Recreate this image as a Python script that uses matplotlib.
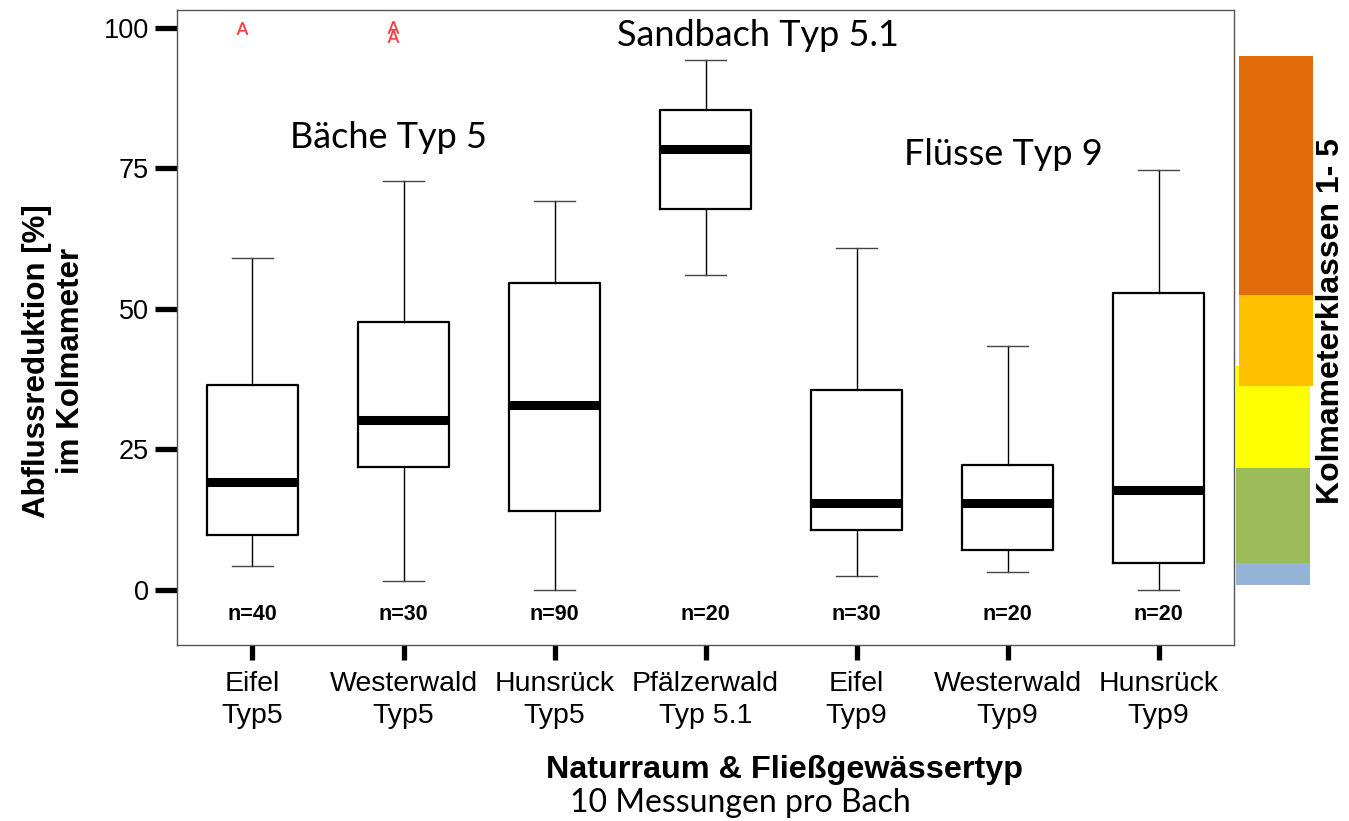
import matplotlib
matplotlib.use("Agg")
import matplotlib.pyplot as plt

# box statistics (percent)
labels = ["Eifel\nTyp5", "Westerwald\nTyp5", "Hunsrück\nTyp5", "Pfälzerwald\nTyp 5.1",
          "Eifel\nTyp9", "Westerwald\nTyp9", "Hunsrück\nTyp9"]
whislo = [4.3, 1.6, 0.0, 56.0, 2.5, 3.2, 0.0]
q1 = [9.8, 21.9, 14.1, 67.8, 10.7, 7.1, 4.8]
med = [19.2, 30.2, 32.9, 78.5, 15.5, 15.5, 17.8]
q3 = [36.5, 47.7, 54.6, 85.4, 35.6, 22.2, 52.8]
whishi = [59.1, 72.8, 69.2, 94.3, 60.9, 43.4, 74.7]
n_counts = [40, 30, 90, 20, 30, 20, 20]

# outliers (drawn as red "A")
out_x = [1, 2, 2]
out_y = [100.0, 100.2, 98.6]

# Kolmameter classes strip: (bottom, top, colour)
class_bottom = [0.9, 4.8, 21.7, 36.3, 52.5]
class_top = [4.8, 21.7, 39.9, 52.5, 95.0]
class_colors = ["#95B3D7", "#9BBB59", "#FFFF00", "#FFC000", "#E36C0A"]

plt.rcParams['font.family'] = ['Liberation Sans', 'DejaVu Sans']
note_font = ['Lato', 'DejaVu Sans']

fig = plt.figure(figsize=(13.49, 8.21), dpi=100)
ax = fig.add_axes([177/1349, 1 - 645/821, (1234-177)/1349, (645-10)/821])

stats = []
for i in range(len(labels)):
    stats.append(dict(whislo=whislo[i], q1=q1[i], med=med[i], q3=q3[i],
                      whishi=whishi[i], fliers=[]))
pos = list(range(1, len(labels) + 1))
ax.bxp(stats, positions=pos, widths=0.6, showfliers=False,
       boxprops=dict(color='black', linewidth=1.6),
       medianprops=dict(color='black', linewidth=6.5, solid_capstyle='butt'),
       whiskerprops=dict(color='black', linewidth=1),
       capprops=dict(color='#444444', linewidth=1), capwidths=0.27)

ax.scatter([x - 0.07 for x in out_x], out_y, marker=r'$\mathrm{A}$', s=80,
           color='#FF3333', linewidths=0.2)

for p, n in zip(pos, n_counts):
    ax.text(p, -4.4, f"n={n}", ha='center', va='center', fontsize=15.5, fontweight='bold')

ax.set_xlim(0.5, 7.5)
ax.set_ylim(-9.8, 103.2)
ax.set_xticks(pos)
ax.set_xticklabels(labels, fontsize=20.5, linespacing=1.3)
ax.set_yticks([0, 25, 50, 75, 100])
ax.tick_params(axis='y', length=16, width=3.8, labelsize=19.5, pad=4)
ax.tick_params(axis='x', length=11, width=3.8, pad=8)
for s in ax.spines.values():
    s.set_color('#555555')
    s.set_linewidth(1)

ax.text(4.35, 98.6, "Sandbach Typ 5.1", ha='center', va='center', fontsize=26, family=note_font)
ax.text(1.9, 80.5, "Bäche Typ 5", ha='center', va='center', fontsize=26, family=note_font)
ax.text(5.97, 77.5, "Flüsse Typ 9", ha='center', va='center', fontsize=26, family=note_font)

# class strip on the right
bax = fig.add_axes([1236/1349, 1 - 645/821, 77/1349, (645-10)/821], sharey=ax)
bax.set_xlim(0, 1)
bax.axis('off')
for b, t, c in zip(class_bottom, class_top, class_colors):
    if b >= 36:
        bax.bar(0.52, t - b, bottom=b, width=0.96, color=c, linewidth=0)
    else:
        bax.bar(0.48, t - b, bottom=b, width=0.96, color=c, linewidth=0)

fig.text(54/1349, 1 - 361/821, "Abflussreduktion [%]\nim Kolmameter", rotation=90,
         ha='center', va='center', fontsize=22.5, fontweight='bold', linespacing=1.15)
fig.text(1331/1349, 1 - 321/821, "Kolmameterklassen 1- 5", rotation=90,
         ha='center', va='center', fontsize=23, fontweight='bold')
fig.text(784/1349, 1 - 770/821, "Naturraum & Fließgewässertyp", ha='center', va='center',
         fontsize=23.3, fontweight='bold')
fig.text(740/1349, 1 - 803/821, "10 Messungen pro Bach", ha='center', va='center',
         fontsize=23, family=note_font)

fig.savefig("out.png", dpi=100)
